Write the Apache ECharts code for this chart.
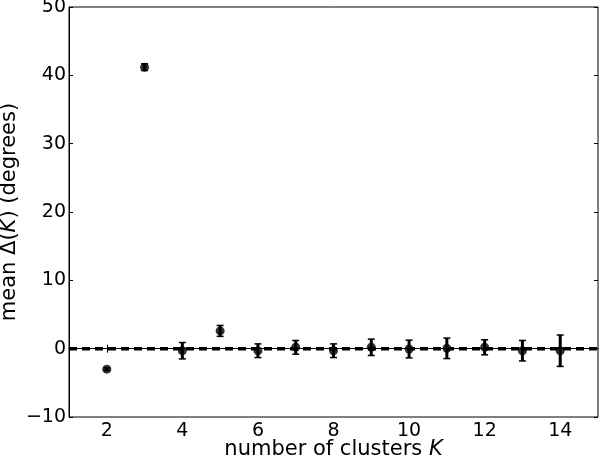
<!DOCTYPE html>
<html>
<head>
<meta charset="utf-8">
<script src="https://cdn.jsdelivr.net/npm/echarts@6/dist/echarts.min.js"></script>
<style>
  html, body { margin: 0; padding: 0; background: #fff; }
  #chart { width: 600px; height: 459px; }
</style>
</head>
<body>
<div id="chart"></div>
<script>
// number of clusters K
var clusters = [2, 3, 4, 5, 6, 7, 8, 9, 10, 11, 12, 13, 14];
// mean Delta(K) in degrees
var meanDelta = [-3.0, 41.2, -0.3, 2.6, -0.3, 0.2, -0.3, 0.2, -0.05, 0.05, 0.2, -0.3, -0.3];
// half-length of the error bars
var errDelta = [0.2, 0.5, 1.2, 0.8, 1.0, 1.0, 1.0, 1.2, 1.3, 1.5, 1.1, 1.5, 2.3];
var xTicks = [2, 4, 6, 8, 10, 12, 14];
var yTicks = [-10, 0, 10, 20, 30, 40, 50];

var font = "DejaVu Sans";

var points = clusters.map(function (k, i) {
  return [k, meanDelta[i]];
});
var bars = clusters.map(function (k, i) {
  return [k, meanDelta[i] - errDelta[i], meanDelta[i] + errDelta[i]];
});

var myChart = echarts.init(document.getElementById("chart"));

function ticks(values) {
  return { show: true, inside: true, length: 4, customValues: values, lineStyle: { color: "#000", width: 1 } };
}

var option = {
  animation: false,
  backgroundColor: "#fff",
  grid: {
    left: 69,
    right: 2,
    top: 7,
    bottom: 42,
    containLabel: false,
    outerBoundsMode: "none",
    show: true,
    borderColor: "#000",
    borderWidth: 1,
  },
  xAxis: [
    {
      type: "value",
      min: 1,
      max: 15,
      axisLine: { show: true, lineStyle: { color: "#000" } },
      axisTick: ticks(xTicks),
      splitLine: { show: false },
      axisLabel: {
        color: "#000",
        fontFamily: font,
        fontSize: 19,
        margin: 5,
        customValues: xTicks,
      },
      name: "number of clusters {i|K}",
      nameLocation: "middle",
      nameGap: 22,
      nameMoveOverlap: false,
      nameTextStyle: {
        color: "#000",
        fontFamily: font,
        fontSize: 21,
        verticalAlign: "top",
        rich: {
          i: { fontFamily: font, fontStyle: "italic", fontSize: 21, color: "#000" },
        },
      },
    },
    {
      type: "value",
      position: "top",
      min: 1,
      max: 15,
      axisLine: { show: false },
      axisTick: ticks(xTicks),
      axisLabel: { show: false },
      splitLine: { show: false },
    },
  ],
  yAxis: [
    {
      type: "value",
      min: -10,
      max: 50,
      axisLine: { show: true, lineStyle: { color: "#000" } },
      axisTick: ticks(yTicks),
      splitLine: { show: false },
      axisLabel: {
        color: "#000",
        fontFamily: font,
        fontSize: 19,
        margin: 3,
        customValues: yTicks,
        formatter: function (v) {
          return v < 0 ? "\u2212" + Math.abs(v) : String(v);
        },
      },
      name: "mean \u0394({i|K}) (degrees)",
      nameLocation: "middle",
      nameGap: 49,
      nameRotate: 90,
      nameMoveOverlap: false,
      nameTextStyle: {
        color: "#000",
        fontFamily: font,
        fontSize: 21,
        rich: {
          i: { fontFamily: font, fontStyle: "italic", fontSize: 21, color: "#000" },
        },
      },
    },
    {
      type: "value",
      position: "right",
      min: -10,
      max: 50,
      axisLine: { show: false },
      axisTick: ticks(yTicks),
      axisLabel: { show: false },
      splitLine: { show: false },
    },
  ],
  series: [
    {
      type: "line",
      data: [[1, 0], [15, 0]],
      showSymbol: false,
      symbol: "none",
      lineStyle: { color: "#000", width: 3.5, type: [8, 5] },
      z: 1,
    },
    {
      type: "custom",
      data: bars,
      z: 2,
      renderItem: function (params, api) {
        var x = api.value(0);
        var lo = api.coord([x, api.value(1)]);
        var hi = api.coord([x, api.value(2)]);
        var cap = 3.5;
        var capStyle = { stroke: "#000", lineWidth: 1.5 };
        return {
          type: "group",
          children: [
            { type: "line", shape: { x1: lo[0], y1: lo[1], x2: hi[0], y2: hi[1] }, style: { stroke: "#000", lineWidth: 3 } },
            { type: "line", shape: { x1: lo[0] - cap, y1: lo[1], x2: lo[0] + cap, y2: lo[1] }, style: capStyle },
            { type: "line", shape: { x1: hi[0] - cap, y1: hi[1], x2: hi[0] + cap, y2: hi[1] }, style: capStyle },
          ],
        };
      },
    },
    {
      type: "scatter",
      data: points,
      symbol: "circle",
      symbolSize: 9,
      itemStyle: { color: "#000" },
      z: 3,
    },
  ],
};

myChart.setOption(option);
window.addEventListener("resize", function () {
  myChart.resize();
});
</script>
</body>
</html>
